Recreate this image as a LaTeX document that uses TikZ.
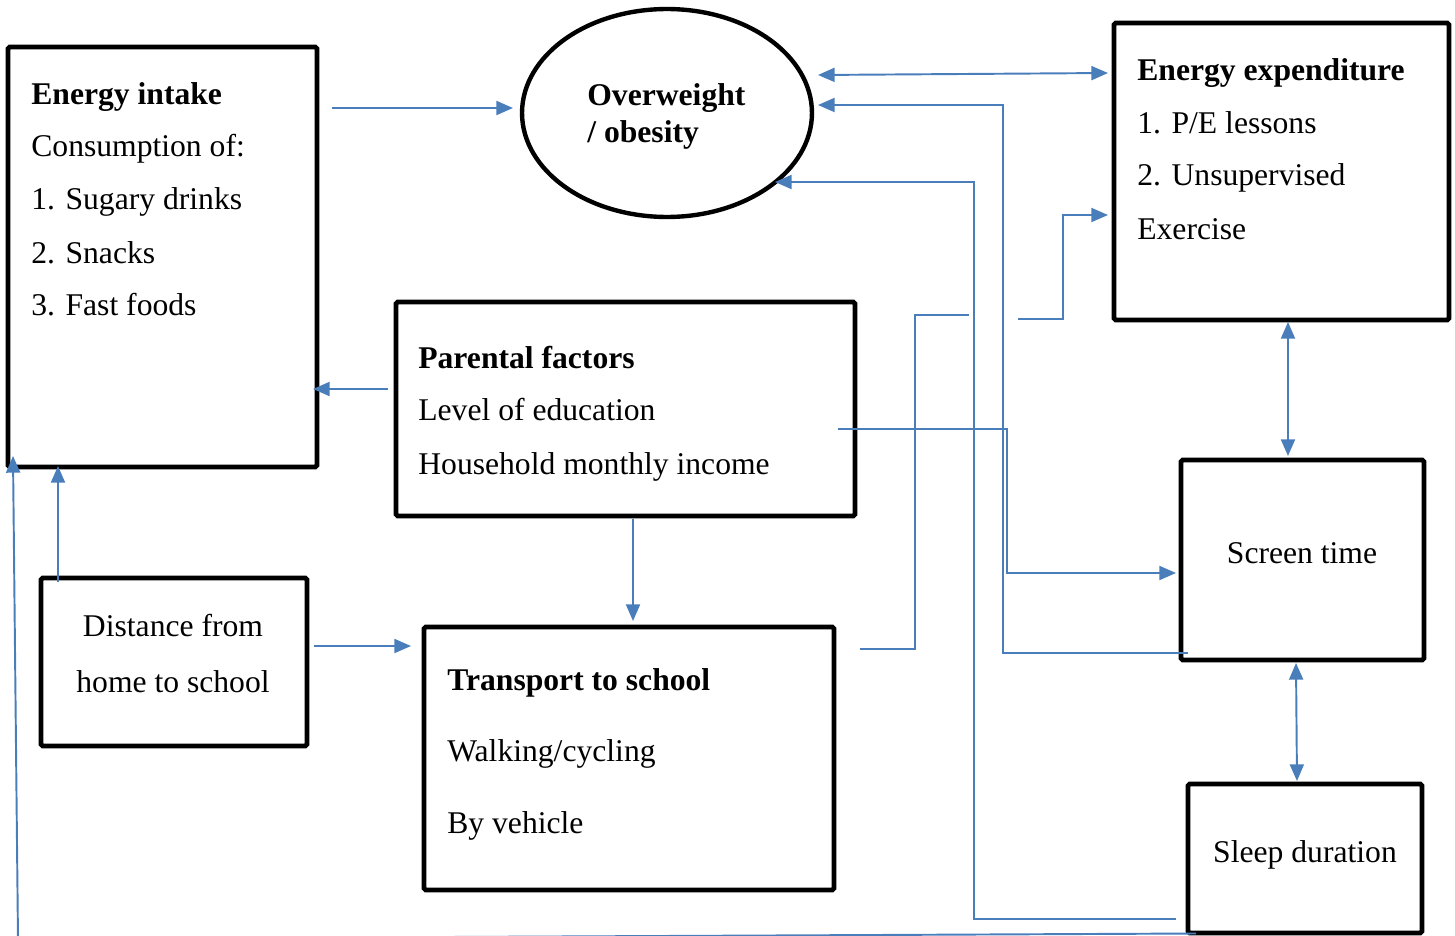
\documentclass[tikz,border=0pt]{standalone}
\usepackage{fontspec}
\setmainfont{Liberation Serif}
\usetikzlibrary{arrows.meta,shapes.geometric,fit}
\definecolor{linkblue}{RGB}{74,126,187}
\begin{document}
\begin{tikzpicture}[x=0.02cm,y=-0.02cm,
  box/.style={draw, line width=2.8pt, inner sep=0pt, rounded corners=1pt},
  conn/.style={draw=linkblue, line width=1.1pt},
  arr/.style={conn, -{Triangle[length=9.5pt,width=8pt]}},
  darr/.style={conn, {Triangle[length=9.5pt,width=8pt]}-{Triangle[length=9.5pt,width=8pt]}},
  lbl/.style={anchor=base west, inner sep=0pt, font=\fontsize{18}{22}\selectfont},
  clbl/.style={anchor=base, inner sep=0pt, font=\fontsize{18}{22}\selectfont},
  blbl/.style={lbl, font=\fontsize{18}{22}\selectfont\bfseries}
]
\useasboundingbox (0,0) rectangle (1455,936);

% boxes
\node[box, fit={(8,47)(317,467)}] (ei) {};
\node[ellipse, draw, line width=2.5pt, minimum width=5.8cm, minimum height=4.16cm, inner sep=0pt] (ow) at (667,113) {};
\node[box, fit={(1114,23)(1449,320)}] (ee) {};
\node[box, fit={(396,302)(855,516)}] (pf) {};
\node[box, fit={(1181,460)(1424,660)}] (st) {};
\node[box, fit={(41,578)(307,746)}] (dh) {};
\node[box, fit={(424,627)(834,890)}] (ts) {};
\node[box, fit={(1188,784)(1422,933)}] (sd) {};

% texts
\node[blbl] (ei1) at (31,105) {Energy intake};
\node[lbl] (ei2) at (31,157) {Consumption of:};
\node[lbl] (ei3) at (31,210) {1. Sugary drinks};
\node[lbl] (ei4) at (31,263) {2. Snacks};
\node[lbl] (ei5) at (31,316) {3. Fast foods};

\node[blbl] (ow1) at (587,106) {Overweight};
\node[blbl] (ow2) at (587,143) {/ obesity};

\node[blbl] (ee1) at (1137,81) {Energy expenditure};
\node[lbl] (ee2) at (1137,133) {1. P/E lessons};
\node[lbl] (ee3) at (1137,186) {2. Unsupervised};
\node[lbl] (ee4) at (1137,239) {Exercise};

\node[blbl] (pf1) at (418,368) {Parental factors};
\node[lbl] (pf2) at (418,420) {Level of education};
\node[lbl] (pf3) at (418,474) {Household monthly income};

\node[clbl] (st1) at (1302,563) {Screen time};

\node[clbl] (dh1) at (173,636) {Distance from};
\node[clbl] (dh2) at (173,692) {home to school};

\node[blbl] (ts1) at (447,690) {Transport to school};
\node[lbl] (ts2) at (447,761) {Walking/cycling};
\node[lbl] (ts3) at (447,833) {By vehicle};

\node[clbl] (sd1) at (1305,862) {Sleep duration};

% connector end points
\coordinate (eiR) at (332,108);   \coordinate (owL) at (513,108);
\coordinate (owR1) at (818,75);   \coordinate (eeL1) at (1108,73);
\coordinate (owR2) at (818,105);  \coordinate (stL2) at (1188,653);
\coordinate (owR3) at (775,182);  \coordinate (sdL) at (1176,919);
\coordinate (tsR) at (860,649);   \coordinate (tsA) at (969,315);
\coordinate (tsB) at (1018,319);  \coordinate (eeL2) at (1108,215);
\coordinate (pfR) at (838,429);   \coordinate (stL1) at (1176,573);
\coordinate (pfL) at (388,389);   \coordinate (eiR2) at (313,389);
\coordinate (pfB) at (633,519);   \coordinate (tsT) at (633,621);
\coordinate (dhR) at (314,646);   \coordinate (tsL) at (411,646);
\coordinate (dhT) at (58,582);    \coordinate (eiB) at (58,466);
\coordinate (sdB) at (1196,933.5);\coordinate (eiBL) at (13,456);
\coordinate (eeB) at (1288,322);  \coordinate (stT) at (1288,456);
\coordinate (stB) at (1296,663);  \coordinate (sdT) at (1297,781);

% connectors
\draw[arr] (eiR) -- (owL);
\draw[darr] (owR1) -- (eeL1);
\draw[arr] (stL2) -| (1003,105) -- (owR2);
\draw[arr] (sdL) -| (974,182) -- (owR3);
\draw[conn] (tsR) -| (915,315) -- (tsA);
\draw[arr] (tsB) -| (1063,215) -- (eeL2);
\draw[arr] (pfR) -| (1007,573) -- (stL1);
\draw[arr] (pfL) -- (eiR2);
\draw[arr] (pfB) -- (tsT);
\draw[arr] (dhR) -- (tsL);
\draw[arr] (dhT) -- (eiB);
\draw[arr] (sdB) -- (18,939) -- (eiBL);
\draw[darr] (eeB) -- (stT);
\draw[darr] (stB) -- (sdT);
\end{tikzpicture}
\end{document}
